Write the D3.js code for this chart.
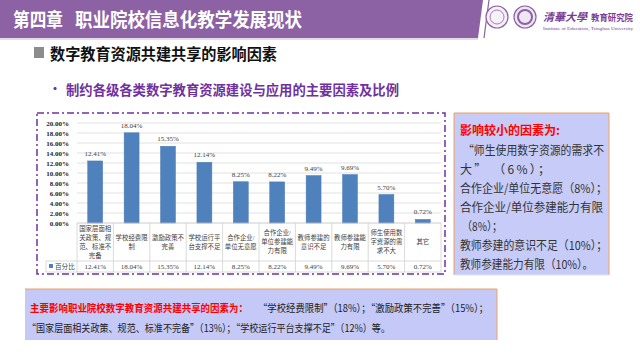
<!DOCTYPE html>
<html lang="zh">
<head>
<meta charset="utf-8">
<script src="https://cdn.jsdelivr.net/npm/d3@7/dist/d3.min.js"></script>
<style>
  html, body { margin: 0; padding: 0; background: #fff; }
  svg { display: block; }
  .cjk { font-family: "Noto Sans CJK SC", "Noto Sans", sans-serif; }
  .ser { font-family: "Liberation Serif", "Noto Sans CJK SC", serif; }
</style>
</head>
<body>
<div id="main-frame"></div>
<script>
// chart data
var categories = [
  ["国家层面相", "关政策、规", "范、标准不", "完备"],
  ["学校经费限", "制"],
  ["激励政策不", "完善"],
  ["学校运行平", "台支撑不足"],
  ["合作企业/", "单位无意愿"],
  ["合作企业/", "单位参建能", "力有限"],
  ["教师参建的", "意识不足"],
  ["教师参建能", "力有限"],
  ["师生使用数", "字资源的需", "求不大"],
  ["其它"]
];
var values = [12.41, 18.04, 15.35, 12.14, 8.25, 8.22, 9.49, 9.69, 5.70, 0.72];
var yTicks = [0, 2, 4, 6, 8, 10, 12, 14, 16, 18, 20];
var seriesName = "百分比";

var sideTitle = "影响较小的因素为:";
var sideLines = [
  "\u201c师生使用数字资源的需求不",
  "大\u201d （6%）；",
  "合作企业/单位无意愿（8%）；",
  "合作企业/单位参建能力有限",
  "（8%）；",
  "教师参建的意识不足（10%）；",
  "教师参建能力有限（10%）。"
];
// where each note line starts and ends in the box
var sideStart = [463, 460, 460, 460, 462, 460, 460];
var sideEnd = [604, 550, 607, 603, 502, 607, 593];

var bottomTitle = "主要影响职业院校数字教育资源共建共享的因素为：";
var bottomLine1 = "\u201c学校经费限制\u201d（18%）；\u201c激励政策不完善\u201d（15%）；";
var bottomLine2 = "\u201c国家层面相关政策、规范、标准不完备\u201d（13%）；\u201c学校运行平台支撑不足\u201d（12%）等。";

var W = 640, H = 360;
var svg = d3.select("#main-frame").append("svg")
  .attr("width", W).attr("height", H);

// squeeze text to a width, but only spread letters (not glyphs) when it is short
function fitText(sel, w) {
  sel.each(function() {
    var n = this.getComputedTextLength();
    d3.select(this).attr("textLength", w)
      .attr("lengthAdjust", n > w ? "spacingAndGlyphs" : "spacing");
  });
}

// header band
svg.append("polygon")
  .attr("points", "0,0 483,0 478,38 0,38")
  .style("fill", "#8C62A5");
svg.append("line")
  .attr("x1", 489).attr("y1", 0).attr("x2", 484).attr("y2", 38)
  .style("stroke", "#8C62A5").style("stroke-width", 1.2);
svg.append("line")
  .attr("x1", 0).attr("y1", 39).attr("x2", 478).attr("y2", 39)
  .style("stroke", "#d8d0dc").style("stroke-width", 1.5);
svg.append("text").attr("class", "cjk")
  .attr("x", 13).attr("y", 27)
  .attr("textLength", 50).attr("lengthAdjust", "spacingAndGlyphs")
  .style("font-size", "19px").style("font-weight", "bold").style("fill", "#fff")
  .text("第四章");
svg.append("text").attr("class", "cjk")
  .attr("x", 75).attr("y", 27)
  .attr("textLength", 227).attr("lengthAdjust", "spacingAndGlyphs")
  .style("font-size", "19px").style("font-weight", "bold").style("fill", "#fff")
  .text("职业院校信息化教学发展现状");

// logos
[[497, 17], [525, 17]].forEach(function(c, i) {
  svg.append("circle").attr("cx", c[0]).attr("cy", c[1]).attr("r", 11)
    .style("fill", i ? "#efe6f3" : "#f6f0f8").style("stroke", "#8C62A5").style("stroke-width", 1.2);
  svg.append("circle").attr("cx", c[0]).attr("cy", c[1]).attr("r", 7)
    .style("fill", "none").style("stroke", "#8C62A5").style("stroke-width", i ? 2 : 0.8);
});
svg.append("text").attr("class", "cjk").attr("x", 543).attr("y", 21)
  .attr("textLength", 44).attr("lengthAdjust", "spacingAndGlyphs")
  .style("font-size", "11px").style("font-weight", "bold")
  .style("font-style", "italic").style("fill", "#7a3f95").text("清華大學");
svg.append("text").attr("class", "cjk").attr("x", 591).attr("y", 21)
  .attr("textLength", 42).attr("lengthAdjust", "spacingAndGlyphs")
  .style("font-size", "9px").style("font-weight", "bold").style("fill", "#7a3f95").text("教育研究院");
svg.append("text").attr("class", "ser").attr("x", 543).attr("y", 30)
  .attr("textLength", 90).attr("lengthAdjust", "spacingAndGlyphs")
  .style("font-size", "4px").style("fill", "#7a3f95").text("Institute of Education, Tsinghua University");

// section heading
svg.append("rect").attr("x", 34).attr("y", 47).attr("width", 10).attr("height", 11)
  .style("fill", "#8c8c8c");
svg.append("text").attr("class", "cjk").attr("x", 50).attr("y", 60)
  .attr("textLength", 227).attr("lengthAdjust", "spacingAndGlyphs")
  .style("font-size", "15.5px").style("font-weight", "bold").style("fill", "#111")
  .text("数字教育资源共建共享的影响因素");

// bullet
svg.append("text").attr("class", "cjk").attr("x", 49).attr("y", 94)
  .style("font-size", "12px").style("font-weight", "bold").style("fill", "#7030A0").text("•");
svg.append("text").attr("class", "cjk").attr("x", 66).attr("y", 94.5)
  .attr("textLength", 333).attr("lengthAdjust", "spacingAndGlyphs")
  .style("font-size", "13.5px").style("font-weight", "bold").style("fill", "#7030A0")
  .text("制约各级各类数字教育资源建设与应用的主要因素及比例");

// chart frame (dash-dot)
svg.append("rect").attr("x", 37).attr("y", 113).attr("width", 408).attr("height", 161)
  .style("fill", "#fff").style("stroke", "#7030A0").style("stroke-width", 1.5)
  .style("stroke-dasharray", "7,3,2,3");

var plotL = 77, plotR = 441, y0 = 223, yTop = 123;
var x = d3.scaleBand().domain(d3.range(values.length)).range([plotL, plotR]).paddingInner(0).paddingOuter(0);
var y = d3.scaleLinear().domain([0, 20]).range([y0, yTop]);

// gridlines + y axis
var yAxis = d3.axisLeft(y).tickValues(yTicks).tickSize(0)
  .tickFormat(function(d) { return d.toFixed(2) + "%"; });
var gy = svg.append("g").attr("transform", "translate(" + plotL + ",0)").call(yAxis);
gy.select(".domain").remove();
gy.selectAll("text").attr("class", "ser").attr("x", -8)
  .style("font-size", "7px").style("font-weight", "bold").style("fill", "#222");
svg.append("g").selectAll("line").data(yTicks.slice(1)).enter().append("line")
  .attr("x1", plotL).attr("x2", plotR)
  .attr("y1", function(d) { return y(d); }).attr("y2", function(d) { return y(d); })
  .style("stroke", "#d9d9d9").style("stroke-width", 0.8);

// bars
var barW = x.bandwidth() * 0.41;
svg.append("g").selectAll("rect").data(values).enter().append("rect")
  .attr("x", function(d, i) { return x(i) + (x.bandwidth() - barW) / 2; })
  .attr("y", function(d) { return y(d); })
  .attr("width", barW)
  .attr("height", function(d) { return y0 - y(d); })
  .style("fill", "#4F81BD").style("stroke", "#4a7ab3").style("stroke-width", 0.5);

// data labels
svg.append("g").selectAll("text").data(values).enter().append("text")
  .attr("class", "ser")
  .attr("x", function(d, i) { return x(i) + x.bandwidth() / 2; })
  .attr("y", function(d) { return y(d) - 5; })
  .attr("text-anchor", "middle")
  .style("font-size", "7px").style("fill", "#404040")
  .text(function(d) { return d.toFixed(2) + "%"; });

// data table
var rowTop = y0, rowMid = 261, rowBot = 272, legL = 46;
var tbl = svg.append("g").style("stroke", "#d0d0d0").style("stroke-width", 0.8);
tbl.append("line").attr("x1", plotL).attr("x2", plotR).attr("y1", rowTop).attr("y2", rowTop)
  .style("stroke", "#bfbfbf");
tbl.append("line").attr("x1", legL).attr("x2", plotR).attr("y1", rowMid).attr("y2", rowMid);
tbl.append("line").attr("x1", legL).attr("x2", plotR).attr("y1", rowBot).attr("y2", rowBot);
tbl.append("line").attr("x1", legL).attr("x2", legL).attr("y1", rowMid).attr("y2", rowBot);
tbl.selectAll("line.v").data(d3.range(values.length + 1)).enter().append("line")
  .attr("x1", function(i) { return plotL + i * x.bandwidth(); })
  .attr("x2", function(i) { return plotL + i * x.bandwidth(); })
  .attr("y1", rowTop).attr("y2", rowBot);

var lh = 9;
categories.forEach(function(lines, i) {
  var cy = (rowTop + rowMid) / 2 - (lines.length - 1) * lh / 2;
  var t = svg.append("text").attr("class", "ser")
    .attr("text-anchor", "middle")
    .style("font-size", "6.4px").style("fill", "#404040");
  lines.forEach(function(s, k) {
    t.append("tspan").attr("x", x(i) + x.bandwidth() / 2)
      .attr("y", cy + k * lh + 2.3).text(s);
  });
});
svg.append("g").selectAll("text").data(values).enter().append("text")
  .attr("class", "ser")
  .attr("x", function(d, i) { return x(i) + x.bandwidth() / 2; })
  .attr("y", (rowMid + rowBot) / 2 + 2.5)
  .attr("text-anchor", "middle")
  .style("font-size", "7px").style("fill", "#404040")
  .text(function(d) { return d.toFixed(2) + "%"; });
svg.append("rect").attr("x", 49).attr("y", 264).attr("width", 4).attr("height", 4).style("fill", "#4F81BD");
svg.append("text").attr("class", "ser").attr("x", 55).attr("y", 269)
  .style("font-size", "6.6px").style("fill", "#404040").text(seriesName);

// right note box
svg.append("rect").attr("x", 454).attr("y", 113).attr("width", 155).attr("height", 162)
  .style("fill", "#C7CBF7");
svg.append("path").attr("d", "M454,275 V113 H609 V275")
  .style("fill", "none").style("stroke", "#F2A05A").style("stroke-width", 1);
svg.append("line").attr("x1", 454).attr("x2", 609).attr("y1", 275).attr("y2", 275)
  .style("stroke", "#dfe3fb").style("stroke-width", 1);
svg.append("text").attr("class", "cjk").attr("x", 460).attr("y", 134.5)
  .attr("textLength", 100).attr("lengthAdjust", "spacingAndGlyphs")
  .style("font-size", "12px").style("font-weight", "bold").style("fill", "#FF0000").text(sideTitle);
svg.append("g").selectAll("text").data(sideLines).enter().append("text")
  .attr("class", "cjk")
  .attr("x", function(d, i) { return sideStart[i]; })
  .attr("y", function(d, i) { return 154.5 + i * 19; })
  .style("font-size", "12px").style("fill", "#333")
  .text(function(d) { return d; })
  .each(function(d, i) { fitText(d3.select(this), sideEnd[i] - sideStart[i]); });

// bottom summary box
svg.append("rect").attr("x", 25).attr("y", 289).attr("width", 472).attr("height", 51)
  .style("fill", "#C4C9F8");
svg.append("path").attr("d", "M25,289 H497 V340")
  .style("fill", "none").style("stroke", "#F2A05A").style("stroke-width", 1);
svg.append("text").attr("class", "cjk").attr("x", 30).attr("y", 312)
  .attr("textLength", 218).attr("lengthAdjust", "spacingAndGlyphs")
  .style("font-size", "10.5px").style("font-weight", "bold").style("fill", "#FF0000")
  .text(bottomTitle);
svg.append("text").attr("class", "cjk").attr("x", 258).attr("y", 312)
  .attr("textLength", 230).attr("lengthAdjust", "spacingAndGlyphs")
  .style("font-size", "10.5px").style("fill", "#222").text(bottomLine1);
svg.append("text").attr("class", "cjk").attr("x", 27).attr("y", 332)
  .attr("textLength", 363).attr("lengthAdjust", "spacingAndGlyphs")
  .style("font-size", "10.5px").style("fill", "#222").text(bottomLine2);
</script>
</body>
</html>
